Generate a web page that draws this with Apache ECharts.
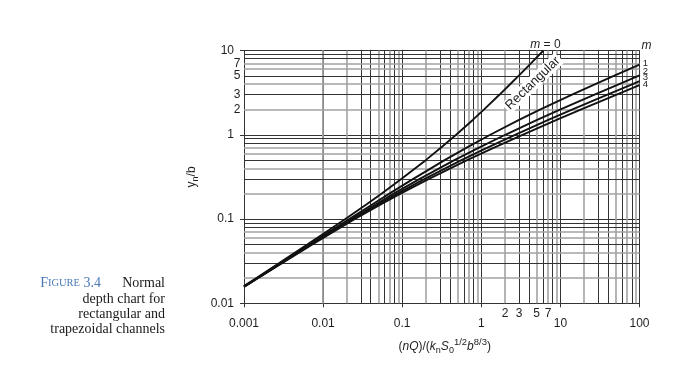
<!DOCTYPE html>
<html><head><meta charset="utf-8">
<script src="https://cdn.jsdelivr.net/npm/echarts@6/dist/echarts.min.js"></script>
<style>html,body{margin:0;padding:0;background:#fff}#c{width:698px;height:377px}</style>
</head><body><div id="c"></div>
<script>
// ---- data ----
const curveLabels = ['0', '1', '2', '3', '4'];   // side slope m
// m = 0 (rectangular)
const flowM0  = [0.001, 0.001436, 0.002786, 0.006369, 0.010895, 0.019084, 0.035554, 0.054643, 0.09828, 0.19839, 0.30787, 0.48075, 0.78, 1.0858, 1.7052, 2.3296, 2.956, 4.2107, 6.0987];
const depthM0 = [0.01603, 0.02, 0.03, 0.05, 0.07, 0.1, 0.15, 0.2, 0.3, 0.5, 0.7, 1, 1.5, 2, 3, 4, 5, 7, 10];
// m = 1
const flowM1  = [0.001, 0.001468, 0.002882, 0.00674, 0.011797, 0.021387, 0.042224, 0.068777, 0.13817, 0.34399, 0.64527, 1.2974, 2.9993, 5.5988, 14.04, 27.63, 47.32, 100];
const depthM1 = [0.01588, 0.02, 0.03, 0.05, 0.07, 0.1, 0.15, 0.2, 0.3, 0.5, 0.7, 1, 1.5, 2, 3, 4, 5, 6.78];
// m = 2
const flowM2  = [0.001, 0.001486, 0.002935, 0.006954, 0.012333, 0.022823, 0.046564, 0.078228, 0.16685, 0.45709, 0.92224, 2.0095, 5.0789, 10.037, 26.98, 55.35, 100];
const depthM2 = [0.01579, 0.02, 0.03, 0.05, 0.07, 0.1, 0.15, 0.2, 0.3, 0.5, 0.7, 1, 1.5, 2, 3, 4, 5.055];
// m = 3
const flowM3  = [0.001, 0.0015, 0.002978, 0.007133, 0.012792, 0.024066, 0.050427, 0.086805, 0.1928, 0.56063, 1.1777, 2.6727, 7.0318, 14.239, 39.35, 81.9, 100];
const depthM3 = [0.01572, 0.02, 0.03, 0.05, 0.07, 0.1, 0.15, 0.2, 0.3, 0.5, 0.7, 1, 1.5, 2, 3, 4, 4.323];
// m = 4
const flowM4  = [0.001, 0.001513, 0.003019, 0.007306, 0.013238, 0.025281, 0.054199, 0.09515, 0.21819, 0.66135, 1.4266, 3.3193, 8.9378, 18.343, 51.44, 100];
const depthM4 = [0.01565, 0.02, 0.03, 0.05, 0.07, 0.1, 0.15, 0.2, 0.3, 0.5, 0.7, 1, 1.5, 2, 3, 3.883];

// axes / ticks
const xRange = [0.001, 100];
const yRange = [0.01, 10];
const xMinorGrid = [0.002,0.003,0.004,0.005,0.006,0.007,0.008,0.009,
                    0.02,0.03,0.04,0.05,0.06,0.07,0.08,0.09,
                    0.2,0.3,0.4,0.5,0.6,0.7,0.8,0.9,
                    2,3,4,5,6,7,8,9,
                    20,30,40,50,60,70,80,90];
const yMinorGrid = [0.02,0.03,0.04,0.05,0.06,0.07,0.08,0.09,
                    0.2,0.3,0.4,0.5,0.6,0.7,0.8,0.9,
                    2,3,4,5,6,7,8,9];
const xExtraTickLabels = [2, 3, 5, 7];
const yExtraTickLabels = [7, 5, 3, 2];

const xTitle = '{p|(}{i|nQ}{p|)/(}{i|k}{sub|n}{i|S}{sub|0}{sup|1/2}{i|b}{sup|8/3}{p|)}';
const yTitle = '{p|y}{sub|n}{p|/b}';
const rectLabel = 'Rectangular';
const captionLines = ['depth chart for', 'rectangular and', 'trapezoidal channels'];

// ---- chart ----
const FONT = 'Liberation Sans, Arial, sans-serif';
const SERIF = 'Liberation Serif, Times New Roman, serif';
const TXT = '#1e1e1e';
const GRID = '#333333';
const GRID_LIGHT = '#a2a2a2';
// scanned grid: some minor lines print dark, some light (pattern for 2..9 in a decade)
const lightPattern = [true, false, false, true, false, true, false, true];

const chart = echarts.init(document.getElementById('c'), null, {renderer: 'canvas'});
const zip = (xs, ys) => xs.map((x, i) => [x, ys[i]]);
const curves = [[flowM0, depthM0], [flowM1, depthM1], [flowM2, depthM2], [flowM3, depthM3], [flowM4, depthM4]];

const fmt = v => { const e = Math.round(Math.log10(v)); return e < 0 ? Math.pow(10, e).toFixed(-e) : String(Math.round(Math.pow(10, e))); };
const gridStyle = i => lightPattern[i % 8] ? {color: GRID_LIGHT, width: 1.6, type: 'solid'} : {color: GRID, width: 1, type: 'solid'};

const series = curves.map((c, i) => ({
  type: 'line', name: 'm' + curveLabels[i], data: zip(c[0], c[1]),
  symbol: 'none', silent: true, animation: false, clip: true, z: 3,
  lineStyle: {color: '#121212', width: 1.9}
}));
series.push({
  type: 'line', name: 'grid', data: [], silent: true, animation: false, z: 1,
  markLine: {
    silent: true, animation: false, symbol: 'none', z: 1,
    label: {show: false}, emphasis: {disabled: true},
    lineStyle: {color: GRID, width: 1, type: 'solid'},
    data: xMinorGrid.map((v, i) => ({xAxis: v, lineStyle: gridStyle(i)}))
      .concat(yMinorGrid.map((v, i) => ({yAxis: v, lineStyle: gridStyle(i + 3)})))
  }
});

const richT = {
  p:   {fontFamily: FONT, fontSize: 12, lineHeight: 18, color: TXT},
  i:   {fontFamily: FONT, fontSize: 12, lineHeight: 18, color: TXT, fontStyle: 'italic'},
  sub: {fontFamily: FONT, fontSize: 9, lineHeight: 12, color: TXT, verticalAlign: 'bottom'},
  sup: {fontFamily: FONT, fontSize: 9.5, lineHeight: 10, color: TXT, verticalAlign: 'top'}
};

const option = {
  backgroundColor: '#ffffff',
  animation: false,
  textStyle: {fontFamily: FONT},
  grid: {left: 244, top: 50.5, width: 395.5, height: 252.8, containLabel: false},
  xAxis: {
    type: 'log', logBase: 10, min: xRange[0], max: xRange[1],
    name: xTitle, nameLocation: 'middle', nameGap: 34,
    nameTextStyle: {rich: richT, padding: [0, 0, 0, 6]},
    axisLine: {show: true, onZero: false, lineStyle: {color: '#333', width: 1}},
    axisTick: {show: true, inside: false, length: 4, lineStyle: {color: '#333'}},
    axisLabel: {fontSize: 12, color: TXT, margin: 14, fontFamily: FONT, formatter: fmt},
    splitLine: {show: true, lineStyle: {color: GRID, width: 1}},
    minorTick: {show: false}, minorSplitLine: {show: false}
  },
  yAxis: {
    type: 'log', logBase: 10, min: yRange[0], max: yRange[1],
    name: yTitle, nameLocation: 'middle', nameGap: 35, nameRotate: 90,
    nameTextStyle: {rich: {
      p: {fontFamily: FONT, fontSize: 12, lineHeight: 16, color: TXT},
      sub: {fontFamily: FONT, fontSize: 9, lineHeight: 10, color: TXT, verticalAlign: 'bottom'}
    }},
    axisLine: {show: true, onZero: false, lineStyle: {color: '#333', width: 1}},
    axisTick: {show: true, inside: false, length: 4, lineStyle: {color: '#333'}},
    axisLabel: {fontSize: 12, color: TXT, margin: 10, fontFamily: FONT, formatter: fmt},
    splitLine: {show: true, lineStyle: {color: GRID, width: 1}},
    minorTick: {show: false}, minorSplitLine: {show: false}
  },
  series: series
};
chart.setOption(option);

// ---- annotations positioned through the axes ----
const px = (x, y) => chart.convertToPixel({seriesIndex: 0}, [x, y]);
const g = [];
const txt = (x, y, text, extra) => g.push(Object.assign({type: 'text', x: x, y: y, z: 50, silent: true,
  style: Object.assign({text: text, fill: TXT, fontFamily: FONT, fontSize: 12, align: 'center', verticalAlign: 'middle'}, (extra && extra.style) || {})},
  extra && extra.rotation != null ? {rotation: extra.rotation} : {}));

xExtraTickLabels.forEach(v => { const p = px(v, yRange[0]); txt(p[0], p[1] + 10.5, String(v)); });
yExtraTickLabels.forEach(v => { const p = px(xRange[0], v); txt(p[0] - 3.5, p[1], String(v), {style: {align: 'right'}}); });

// m = 0 at end of rectangular curve
{
  const p = px(flowM0[flowM0.length - 1], depthM0[depthM0.length - 1]);
  txt(p[0] + 2, p[1] - 6, '{i|m} = 0', {style: {rich: {i: {fontStyle: 'italic', fontFamily: FONT, fontSize: 12, fill: TXT}}}});
}
// 'm' header at right
{
  const p = px(xRange[1], yRange[1]);
  txt(p[0] + 7, p[1] - 4.5, 'm', {style: {fontStyle: 'italic'}});
}
// numbers 1..4 at right ends
const endDy = [-1.6, -4.4, -3.9, -1.2];
[1, 2, 3, 4].forEach((k, j) => {
  const c = curves[k];
  const p = px(c[0][c[0].length - 1], c[1][c[1].length - 1]);
  txt(p[0] + 6, p[1] + endDy[j], curveLabels[k], {style: {fontSize: 9.5}});
});
// 'Rectangular' along the m=0 line
{
  const p = px(4.35, 4.2);
  txt(p[0] + 1, p[1] + 1, rectLabel, {rotation: 44 * Math.PI / 180,
    style: {fontSize: 13, backgroundColor: '#ffffff', padding: [1, 2, 0, 2]}});
}
// caption
g.push({type: 'text', x: 165, y: 283.5, z: 50, silent: true,
  style: {text: 'Normal', fill: '#1a1a1a', fontFamily: SERIF, fontSize: 14, align: 'right', verticalAlign: 'middle'}});
g.push({type: 'text', x: 101, y: 283.5, z: 50, silent: true,
  style: {text: '{b|F}{s|IGURE}{b| 3.4}', fill: '#4b79b5', fontFamily: SERIF, fontSize: 14, align: 'right', verticalAlign: 'middle',
    rich: {b: {fontFamily: SERIF, fontSize: 14, fill: '#4b79b5'}, s: {fontFamily: SERIF, fontSize: 10.5, fill: '#4b79b5'}}}});
captionLines.forEach((t, i) => g.push({type: 'text', x: 165, y: 299.5 + i * 14.8, z: 50, silent: true,
  style: {text: t, fill: '#1a1a1a', fontFamily: SERIF, fontSize: 14, align: 'right', verticalAlign: 'middle'}}));

chart.setOption({graphic: {elements: g}});
</script>
</body></html>
